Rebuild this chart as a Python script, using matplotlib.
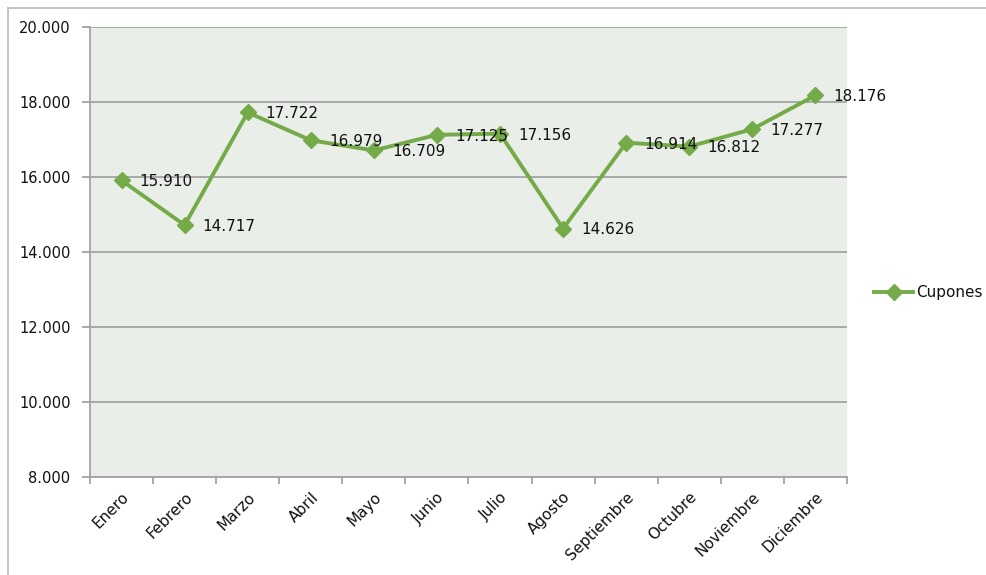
import matplotlib.pyplot as plt
from matplotlib.lines import Line2D
from matplotlib.ticker import FixedLocator, FuncFormatter

# monthly coupon counts
meses = ['Enero', 'Febrero', 'Marzo', 'Abril', 'Mayo', 'Junio', 'Julio',
         'Agosto', 'Septiembre', 'Octubre', 'Noviembre', 'Diciembre']
cupones = [15910, 14717, 17722, 16979, 16709, 17125, 17156,
           14626, 16914, 16812, 17277, 18176]
y_ticks = [8000, 10000, 12000, 14000, 16000, 18000, 20000]

verde = '#74AA48'
gris = '#A3A3A3'
texto = '#111111'

fig = plt.figure(figsize=(9.87, 5.75), dpi=100)
ax = fig.add_axes([90 / 987, 1 - 477 / 575, 757 / 987, 450 / 575])

# chart frame: only the top and left edges are visible
fx = 8.5 / 987
fy = 1 - 8 / 575
fig.add_artist(Line2D([fx, 1.0], [fy, fy], transform=fig.transFigure,
                      color='#BFBFBF', linewidth=1.3))
fig.add_artist(Line2D([fx, fx], [0.0, fy], transform=fig.transFigure,
                      color='#BFBFBF', linewidth=1.3))

ax.set_facecolor('#E9EFE8')
x = list(range(len(meses)))
ax.plot(x, cupones, color=verde, linewidth=2.8, marker='D', markersize=8,
        label='Cupones', zorder=3)

def miles(v):
    s = f'{v:,.0f}'.replace(',', '.')
    return s

for xi, v in zip(x, cupones):
    ax.annotate(miles(v), (xi, v), xytext=(13, -1), textcoords='offset points',
                ha='left', va='center', fontsize=11, color=texto, zorder=4)

ax.set_xlim(-0.5, 11.5)
ax.set_ylim(8000, 20000)
ax.yaxis.set_major_locator(FixedLocator(y_ticks))
ax.yaxis.set_major_formatter(FuncFormatter(lambda v, p: miles(v)))
ax.grid(axis='y', color=gris, linewidth=1.3)
ax.set_axisbelow(True)

ax.set_xticks(x)
ax.set_xticklabels(meses, rotation=45, ha='right', rotation_mode='anchor',
                   fontsize=11, color=texto)
ax.set_xticks([i - 0.5 for i in range(13)], minor=True)
ax.tick_params(axis='x', which='major', length=0, pad=9)
ax.tick_params(axis='x', which='minor', length=5, color=gris, width=1.3)
ax.tick_params(axis='y', length=6, color=gris, width=1.3, labelsize=10.5,
               labelcolor=texto, pad=8)

for side in ['top', 'right']:
    ax.spines[side].set_visible(False)
for side in ['left', 'bottom']:
    ax.spines[side].set_color(gris)
    ax.spines[side].set_linewidth(1.3)

fig.legend(loc='center left', bbox_to_anchor=(860 / 987, 1 - 293 / 575),
           frameon=False, fontsize=11, handlelength=2.6, handletextpad=0.2,
           labelcolor=texto)

fig.savefig('out.png', dpi=100)
